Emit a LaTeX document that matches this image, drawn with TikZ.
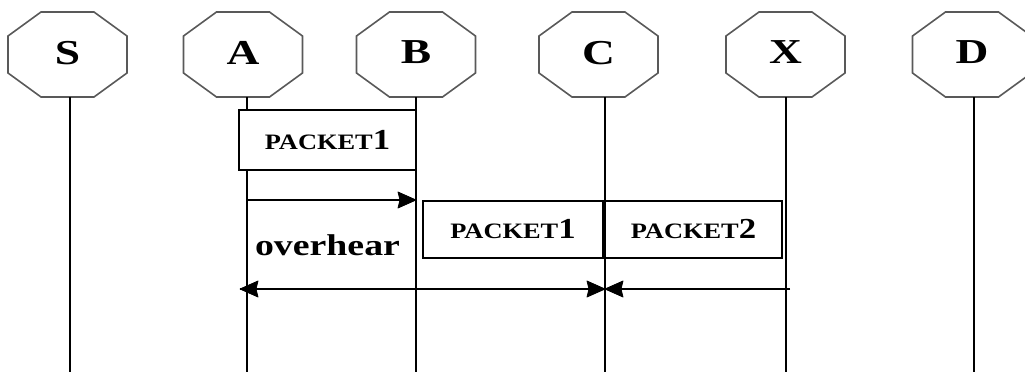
\documentclass[tikz,border=0pt]{standalone}
\usepackage{fontspec}
\setmainfont{Liberation Serif}
\tikzset{
  octline/.style={draw=black!65, line width=1.6pt},
  lifeline/.style={draw=black, line width=1.4pt},
  pbox/.style={draw=black, line width=1.4pt, inner sep=0pt, anchor=center},
  arrline/.style={draw=black, line width=1.4pt},
  tipfill/.style={fill=black, draw=black, line width=0.8pt, line join=round},
  lbl/.style={inner sep=0pt, font=\bfseries\fontsize{35}{35}\selectfont},
}
\newcommand{\pkt}[1]{\scalebox{1.2}[1]{\bfseries{\fontsize{22}{22}\selectfont PACKET}{\fontsize{29}{29}\selectfont #1}}}
\newcommand{\tipR}[1]{\filldraw[tipfill] (#1) -- ++(-18,-8) -- ++(2,8) -- ++(-2,8) -- cycle;}
\newcommand{\tipL}[1]{\filldraw[tipfill] (#1) -- ++(18,-8) -- ++(-2,8) -- ++(2,8) -- cycle;}
\begin{document}
\begin{tikzpicture}[x=1pt,y=-1pt]
\useasboundingbox (0,0) rectangle (1025,372);
% octagons
\foreach \n/\cx in {S/67.5, A/243, B/416, C/598.5, X/785.5, D/972}{
  \node[lbl, minimum width=119pt, minimum height=85pt] (\n) at (\cx,54.5) {\raisebox{4pt}{\scalebox{1.3}[1]{\n}}};
  \draw[octline] (\n.center) ++(-26.5,-42.5) -- ++(53,0) -- ++(33,24) -- ++(0,37) -- ++(-33,24) -- ++(-53,0) -- ++(-33,-24) -- ++(0,-37) -- cycle;
}
% lifelines
\coordinate (St) at (70,97);   \coordinate (Sb) at (70,372);
\coordinate (At) at (247,97);  \coordinate (Ab) at (247,372);
\coordinate (Bt) at (416,97);  \coordinate (Bb) at (416,372);
\coordinate (Ct) at (605,97);  \coordinate (Cb) at (605,372);
\coordinate (Xt) at (786,97);  \coordinate (Xb) at (786,372);
\coordinate (Dt) at (974,97);  \coordinate (Db) at (974,372);
\foreach \n in {S,A,B,C,X,D}{ \draw[lifeline] (\n t) -- (\n b); }
% packet boxes
\node[pbox, fill=white, minimum width=177pt, minimum height=60pt] (p1a) at (327.5,140) {\pkt{1}};
\node[pbox, minimum width=180pt, minimum height=57pt] (p1b) at (513,229.5) {\pkt{1}};
\node[pbox, minimum width=177pt, minimum height=57pt] (p2) at (693.5,229.5) {\pkt{2}};
% arrows
\coordinate (y1) at (0,200);
\coordinate (y2) at (0,289);
\coordinate (ab1) at (At |- y1);
\coordinate (ab2) at (Bt |- y1);
\coordinate (Aleft) at (240,289);
\coordinate (Cmid) at (Ct |- y2);
\coordinate (Xright) at (790,289);
\draw[arrline] (ab1) -- (ab2);
\tipR{ab2}
\draw[arrline] (Aleft) -- (Cmid);
\tipL{Aleft}
\tipR{Cmid}
\draw[arrline] (Xright) -- (Cmid);
\tipL{Cmid}
% overhear
\node[inner sep=0pt, font=\bfseries\fontsize{30}{30}\selectfont] (oh) at (327.5,245) {\scalebox{1.26}[1]{overhear}};
\end{tikzpicture}
\end{document}
